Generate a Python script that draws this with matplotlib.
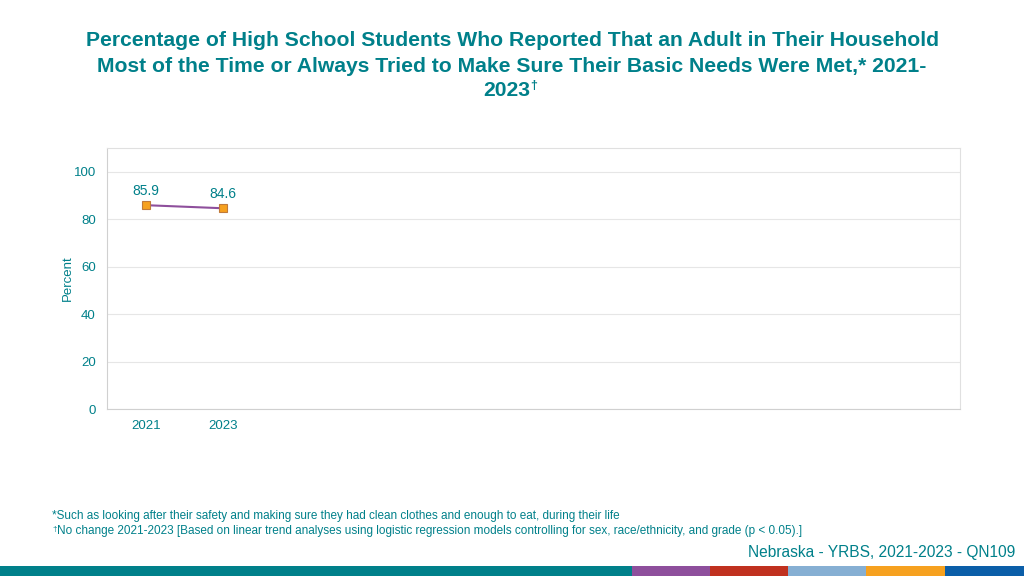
import matplotlib
matplotlib.use("Agg")
import matplotlib.pyplot as plt
from matplotlib.patches import Rectangle

# datos
years = ["2021", "2023"]
values = [85.9, 84.6]
n_slots = 11
yticks = [0, 20, 40, 60, 80, 100]

teal = "#00808a"
title_lines = ["Percentage of High School Students Who Reported That an Adult in Their Household",
               "Most of the Time or Always Tried to Make Sure Their Basic Needs Were Met,* 2021-",
               "2023"]
notes = ["*Such as looking after their safety and making sure they had clean clothes and enough to eat, during their life",
         "No change 2021-2023 [Based on linear trend analyses using logistic regression models controlling for sex, race/ethnicity, and grade (p < 0.05).]"]
band_colors = ["#00808a", "#8e4f9c", "#c0311f", "#86afd3", "#f6a11f", "#0b5ea8"]
band_edges = [0, 632, 710, 788, 866, 945, 1024]

plt.rcParams["font.family"] = ["Liberation Sans", "DejaVu Sans"]

W, H = 1024, 576
fig = plt.figure(figsize=(W / 100, H / 100), dpi=100)
ax = fig.add_axes([107 / W, 1 - 409 / H, (960 - 107) / W, (409 - 148) / H])

x = list(range(len(values)))
ax.plot(x, values, color="#8e4f9c", lw=1.5, marker="s", ms=6,
        mfc="#f6a11f", mec="#c07a3a", mew=0.8, zorder=3)
for xi, v in zip(x, values):
    ax.annotate(f"{v}", (xi, v), xytext=(0, 5), textcoords="offset points",
                ha="center", va="bottom", color=teal, fontsize=10)

ax.set_xlim(-0.5, n_slots - 0.5)
ax.set_ylim(0, 110)
ax.set_yticks(yticks)
ax.set_xticks(x)
ax.set_xticklabels(years)
ax.tick_params(length=0, colors=teal, labelsize=9.5, pad=8)
ax.grid(axis="y", color="#e6e6e6", lw=0.8)
ax.set_axisbelow(True)
for s in ax.spines.values():
    s.set_color("#e0e0e0")
ax.spines["left"].set_color("#d0d0d0")
ax.spines["bottom"].set_color("#d0d0d0")
ax.set_ylabel("Percent", color=teal, fontsize=9.5, labelpad=0)

# titulo
for yy, line in zip([40, 66, 91], title_lines):
    xx, ha = (0.5, "center") if line != "2023" else (530 / W, "right")
    fig.text(xx, 1 - yy / H, line, ha=ha, va="center", color=teal,
             fontsize=15.2, fontweight="bold")
fig.text(530 / W, 1 - 86 / H, "\u2020", ha="left", va="center", color=teal,
         fontsize=9, fontweight="bold")

fig.text(52 / W, 1 - 516 / H, notes[0], fontsize=8.47, va="center", color=teal)
fig.text(52 / W, 1 - 529 / H, "\u2020", fontsize=6, va="center", color=teal)
fig.text(57 / W, 1 - 531 / H, notes[1], fontsize=8.47, va="center", color=teal)
fig.text(1015 / W, 1 - 553 / H, "Nebraska - YRBS, 2021-2023 - QN109",
         ha="right", va="center", color=teal, fontsize=11.2)

for c, a, b in zip(band_colors, band_edges[:-1], band_edges[1:]):
    fig.add_artist(Rectangle((a / W, 0), (b - a) / W, 10 / H,
                             transform=fig.transFigure, color=c, lw=0))

fig.savefig("out.png", dpi=100)
